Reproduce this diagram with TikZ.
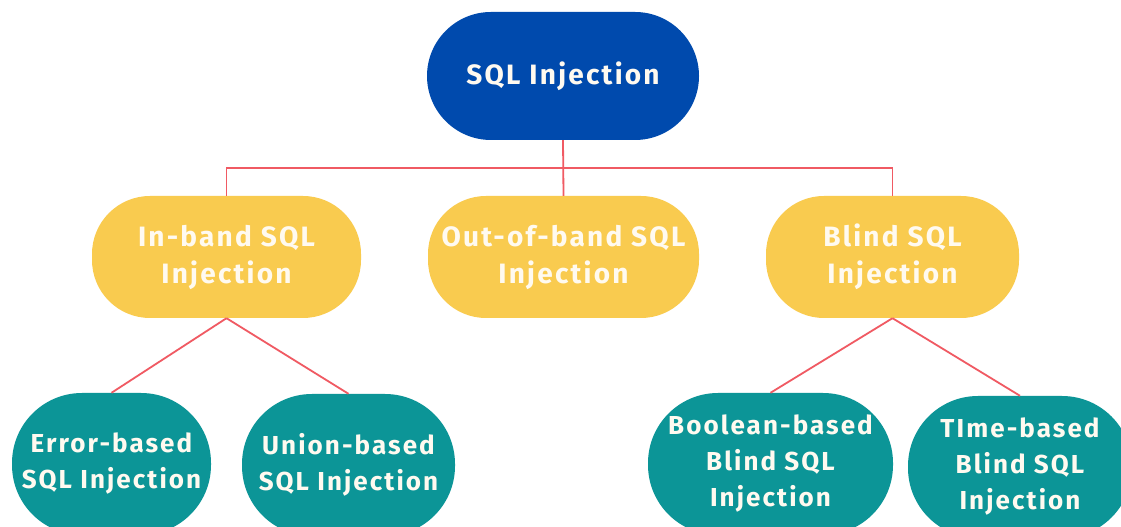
\documentclass[tikz,border=0pt]{standalone}
\usepackage{fontspec}
\setmainfont{Fira Sans}[LetterSpace=8]
\definecolor{cblue}{HTML}{004AAD}
\definecolor{cyellow}{HTML}{F9CB4F}
\definecolor{cteal}{HTML}{0C9597}
\definecolor{cred}{HTML}{F05A63}
\definecolor{ctext}{HTML}{FFFAF0}
\tikzset{
  rootbox/.style={fill=cblue, rounded corners=64pt, minimum width=272pt, minimum height=128pt, inner sep=0pt, text=ctext, font=\bfseries\fontsize{28}{37}\selectfont, align=center},
  midbox/.style={fill=cyellow, rounded corners=58pt, minimum height=122pt, inner sep=0pt, text=ctext, font=\bfseries\fontsize{28}{37}\selectfont, align=center},
  leafbox/.style={fill=cteal, rounded corners=70pt, minimum height=142pt, inner sep=0pt, text=ctext, font=\bfseries\fontsize{26}{36}\selectfont, align=center},
  link/.style={draw=cred, line width=1.8pt}
}
\begin{document}
\begin{tikzpicture}[x=1pt,y=1pt]
\useasboundingbox (0,0) rectangle (1121,527);
\clip (0,0) rectangle (1121,527);
\fill[white] (0,0) rectangle (1121,527);
% nodes
\node[rootbox] (root) at (563,451) {SQL Injection};
\node[midbox, minimum width=269pt] (inband) at (226.5,270) {In-band SQL\\Injection};
\node[midbox, minimum width=271pt] (oob) at (563.5,270) {Out-of-band SQL\\Injection};
\node[midbox, minimum width=253pt] (blind) at (892.5,270) {Blind SQL\\Injection};
\node[leafbox, minimum width=199pt] (error) at (111.5,63) {Error-based\\SQL Injection};
\node[leafbox, minimum width=213pt] (union) at (348.5,62) {Union-based\\SQL Injection};
\node[leafbox, minimum width=245pt] (bool) at (770.5,63) {Boolean-based\\Blind SQL\\Injection};
\node[leafbox, minimum width=224pt] (time) at (1020,60) {TIme-based\\Blind SQL\\Injection};
% connectors
\draw[link] (root.south) -- (oob.north);
\draw[link] (inband.north) -- ++(0,28) -| (blind.north);
\draw[link] (inband.south) -- (error.north);
\draw[link] (inband.south) -- (union.north);
\draw[link] (blind.south) -- (bool.north);
\draw[link] (blind.south) -- (time.north);
\end{tikzpicture}
\end{document}
